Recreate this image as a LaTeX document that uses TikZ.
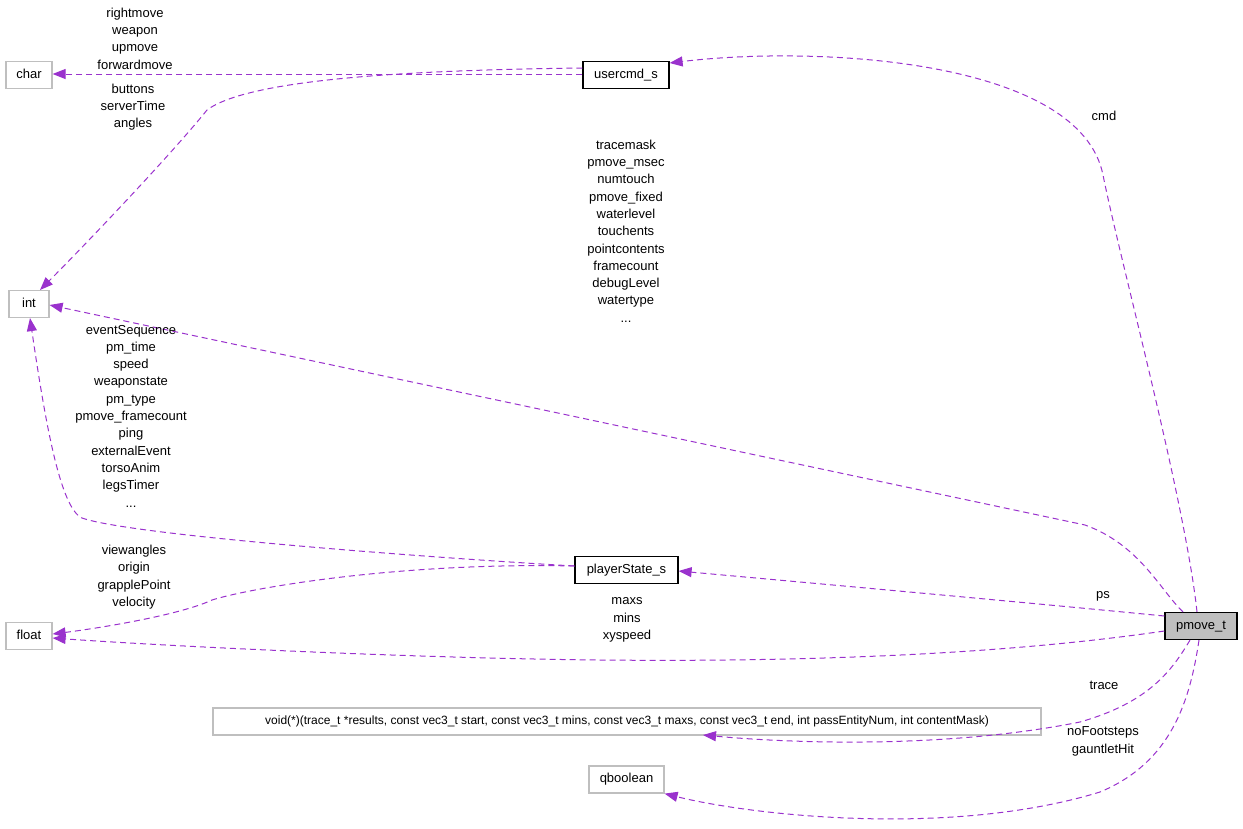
\documentclass[tikz,border=0pt]{standalone}
\usepackage{fontspec}
\setmainfont{Liberation Sans}
\usetikzlibrary{arrows.meta}
\definecolor{edgec}{HTML}{9A32CD}
\definecolor{extc}{HTML}{BFBFBF}
\tikzset{
  base/.style={line width=1.2pt, minimum height=27pt, inner xsep=6pt, inner ysep=0pt, text height=9.5pt, text depth=3pt, font=\fontsize{13}{16}\selectfont},
  ext/.style={base, draw=extc, fill=white},
  cls/.style={base, draw=black, fill=white},
  cur/.style={base, draw=black, fill=extc},
  rel/.style={draw=edgec, line width=1pt, dash pattern=on 6pt off 4pt, -{Triangle[length=13pt,width=10pt]}},
  lbl/.style={align=center, font=\fontsize{13}{17.3}\selectfont, inner sep=0pt}
}
\begin{document}
\begin{tikzpicture}[x=1pt,y=-1pt]
\useasboundingbox (0,0) rectangle (1243,828);
\node[ext, minimum width=46pt] (char) at (29,75) {char};
\node[cls, minimum width=86pt] (usercmd) at (626,75) {usercmd\_s};
\node[ext, minimum width=40pt] (int) at (29,304) {int};
\node[cls, minimum width=103pt] (ps) at (626.5,570) {playerState\_s};
\node[ext, minimum width=46pt] (float) at (29,636) {float};
\node[cur, minimum width=72pt] (pmove) at (1201,626) {pmove\_t};
\node[ext, minimum width=828pt] (void) at (627,721.5) {\fontsize{12}{14}\selectfont void(*)(trace\_t *results, const vec3\_t start, const vec3\_t mins, const vec3\_t maxs, const vec3\_t end, int passEntityNum, int contentMask)};
\node[ext, minimum width=75pt] (qbool) at (626.5,779.5) {qboolean};

% usercmd -> char
\draw[rel] (usercmd.west |- 0,74) -- (char.east |- 0,74);
\node[lbl] (l1) at (135,38.5) {rightmove\\weapon\\upmove\\forwardmove};
% usercmd -> int
\draw[rel] (usercmd.west |- 0,68) .. controls (420,70) and (250,78) .. (207,110) .. controls (175,150) and (90,240) .. (40,290);
\node[lbl] (l2) at (133,107) {buttons\\serverTime\\angles};
% pmove -> usercmd
\draw[rel] (pmove.north -| 1197,0) .. controls (1185,500) and (1120,260) .. (1103,175) .. controls (1080,60) and (820,45) .. (usercmd.east |- 0,63);
\node[lbl] (l3) at (1104,116) {cmd};
% pmove -> int
\draw[rel] (pmove.north -| 1183,0) .. controls (1160,590) and (1140,545) .. (1085,525) -- (int.east |- 0,305);
\node[lbl] (l4) at (626,231) {tracemask\\pmove\_msec\\numtouch\\pmove\_fixed\\waterlevel\\touchents\\pointcontents\\framecount\\debugLevel\\watertype\\...};
% ps -> int
\draw[rel] (ps.west |- 0,566) .. controls (420,557) and (130,535) .. (82,518) .. controls (60,508) and (45,420) .. (int.south -| 30,0);
\node[lbl] (l5) at (131,416) {eventSequence\\pm\_time\\speed\\weaponstate\\pm\_type\\pmove\_framecount\\ping\\externalEvent\\torsoAnim\\legsTimer\\...};
% ps -> float
\draw[rel] (ps.west |- 0,566) .. controls (400,562) and (250,588) .. (212,600) .. controls (180,615) and (100,628) .. (float.east |- 0,634);
\node[lbl] (l6) at (134,577) {viewangles\\origin\\grapplePoint\\velocity};
% pmove -> ps
\draw[rel] (pmove.west |- 0,616) .. controls (1000,600) and (800,582) .. (ps.east |- 0,571);
\node[lbl] (l7) at (1103,596) {ps};
% pmove -> float
\draw[rel] (pmove.west |- 0,631) .. controls (1000,655) and (800,662) .. (600,660) .. controls (400,658) and (150,645) .. (float.east |- 0,638);
\node[lbl] (l8) at (627,620) {maxs\\mins\\xyspeed};
% pmove -> void
\draw[rel] (pmove.south -| 1190,0) .. controls (1172,670) and (1150,702) .. (1080,722) .. controls (950,748) and (800,744) .. (703,735);
\node[lbl] (l9) at (1104,685) {trace};
% pmove -> qboolean
\draw[rel] (pmove.south -| 1199,0) .. controls (1190,700) and (1172,762) .. (1100,792) .. controls (950,838) and (750,815) .. (qbool.south east);
\node[lbl] (l10) at (1103,741.5) {noFootsteps\\gauntletHit};
\end{tikzpicture}
\end{document}
